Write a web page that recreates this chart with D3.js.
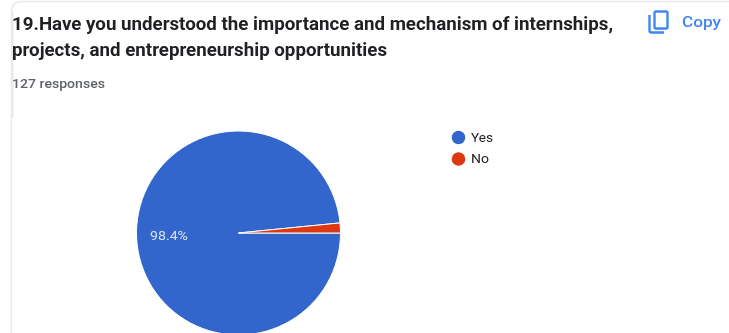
<!DOCTYPE html>
<html><head><meta charset="utf-8">
<script src="https://cdnjs.cloudflare.com/ajax/libs/d3/7.8.5/d3.min.js"></script>
<style>html,body{margin:0;padding:0;background:#fff;overflow:hidden}svg{display:block;filter:blur(0.7px)}</style>
</head><body><script>
const categories=["Yes","No"];
const values=[125,2];
const colors=["#3366cc","#dc3912"];
const titleLines=["19.Have you understood the importance and mechanism of internships,","projects, and entrepreneurship opportunities"];
const titleWidths=[601,375];
const legendWidths=[22,18];
const subtitle="127 responses";
const pctLabel="98.4%";
const copyLabel="Copy";

const svg=d3.select("body").append("svg").attr("width",729).attr("height",333);
svg.append("rect").attr("width",729).attr("height",333).attr("fill","#fff");
svg.append("path").attr("d","M729,1.5H22Q11.5,1.5 11.5,12V333").attr("fill","none").attr("stroke","#e9eaee").attr("stroke-width",1.5);
svg.append("rect").attr("x",11).attr("y",12).attr("width",2.5).attr("height",106).attr("fill","#e8e9ef");

svg.selectAll("text.t").data(titleLines).join("text").attr("class","t")
 .attr("x",12).attr("y",(d,i)=>29.5+i*26).text(d=>d)
 .attr("textLength",(d,i)=>titleWidths[i]).attr("lengthAdjust","spacingAndGlyphs")
 .attr("font-family","Roboto").attr("font-weight",700).attr("font-size",17.5).attr("fill","#202124");
svg.append("text").attr("x",12).attr("y",88).text(subtitle)
 .attr("textLength",93).attr("lengthAdjust","spacingAndGlyphs")
 .attr("font-family","Roboto").attr("font-weight",500).attr("font-size",12.5).attr("fill","#5f6368");

const ic=svg.append("g").attr("fill","none").attr("stroke","#4285f4").attr("stroke-width",2.4);
ic.append("rect").attr("x",654.5).attr("y",11.5).attr("width",13).attr("height",17).attr("rx",1.5);
ic.append("path").attr("d","M649.5,15V30.5Q649.5,32.5 651.5,32.5H664");
svg.append("text").attr("x",682).attr("y",27).text(copyLabel)
 .attr("textLength",39).attr("lengthAdjust","spacingAndGlyphs")
 .attr("font-family","Roboto").attr("font-weight",500).attr("font-size",15).attr("fill","#4285f4");

const pie=d3.pie().sort(null).startAngle(Math.PI/2).endAngle(Math.PI*2.5)(values);
const arc=d3.arc().innerRadius(0).outerRadius(102);
const g=svg.append("g").attr("transform","translate(238.5,233)");
g.selectAll("path").data(pie).join("path").attr("d",arc)
 .attr("fill",(d,i)=>colors[i]).attr("stroke","#fff").attr("stroke-width",1);
g.append("text").attr("x",-88.5).attr("y",7).text(pctLabel)
 .attr("textLength",38).attr("lengthAdjust","spacingAndGlyphs")
 .attr("font-family","Roboto").attr("font-size",12.5).attr("fill","#fff").attr("fill-opacity",.8);

const y=d3.scalePoint().domain(categories).range([137.5,159]);
const leg=svg.selectAll("g.l").data(categories).join("g").attr("class","l").attr("transform",d=>`translate(458.5,${y(d)})`);
leg.append("circle").attr("r",6.8).attr("fill",(d,i)=>colors[i]);
leg.append("text").attr("x",12.5).attr("y",4).text(d=>d)
 .attr("textLength",(d,i)=>legendWidths[i]).attr("lengthAdjust","spacingAndGlyphs")
 .attr("font-family","Roboto").attr("font-size",12).attr("fill","#222");
</script></body></html>
